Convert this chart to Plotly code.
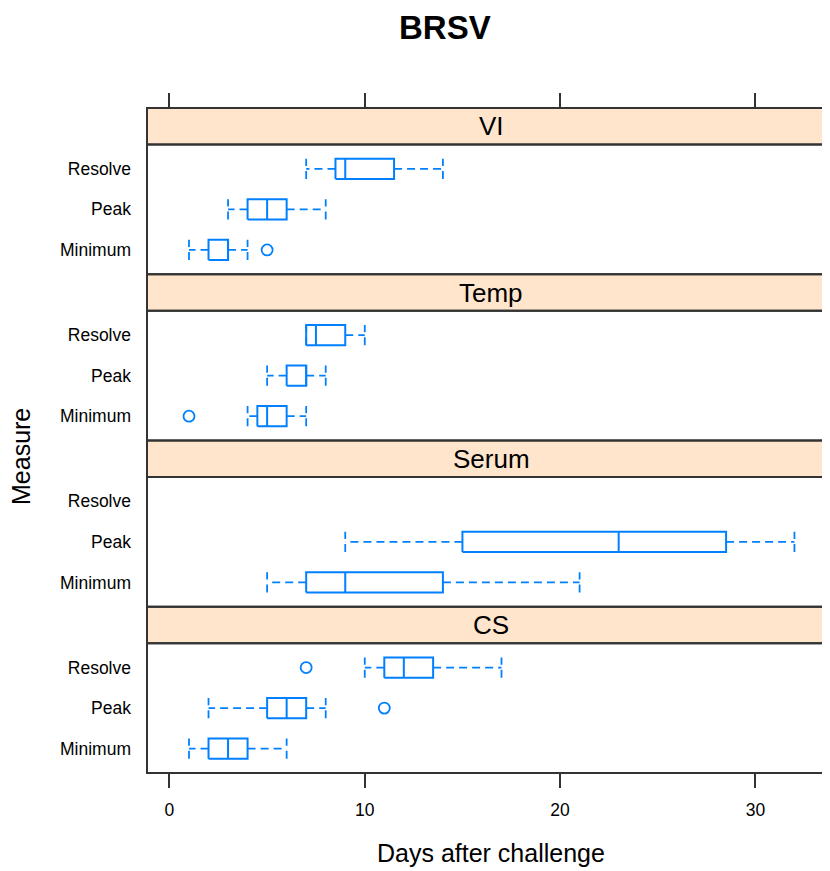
import plotly.graph_objects as go

# ---------------- data ----------------
panels = ["VI", "Temp", "Serum", "CS"]
measures = ["Minimum", "Peak", "Resolve"]
x_ticks = [0, 10, 20, 30]

vi_whisker_lo = [1, 3, 7]
vi_q1 = [2, 4, 8.5]
vi_median = [3, 5, 9]
vi_q3 = [3, 6, 11.5]
vi_whisker_hi = [4, 8, 14]
vi_outlier_measure = ["Minimum"]
vi_outlier_days = [5]

temp_whisker_lo = [4, 5, 7]
temp_q1 = [4.5, 6, 7]
temp_median = [5, 7, 7.5]
temp_q3 = [6, 7, 9]
temp_whisker_hi = [7, 8, 10]
temp_outlier_measure = ["Minimum"]
temp_outlier_days = [1]

serum_whisker_lo = [5, 9, None]
serum_q1 = [7, 15, None]
serum_median = [9, 23, None]
serum_q3 = [14, 28.5, None]
serum_whisker_hi = [21, 32, None]
serum_outlier_measure = []
serum_outlier_days = []

cs_whisker_lo = [1, 2, 10]
cs_q1 = [2, 5, 11]
cs_median = [3, 6, 12]
cs_q3 = [4, 7, 13.5]
cs_whisker_hi = [6, 8, 17]
cs_outlier_measure = ["Peak", "Resolve"]
cs_outlier_days = [11, 7]

panel_data = [
    (vi_whisker_lo, vi_q1, vi_median, vi_q3, vi_whisker_hi, vi_outlier_measure, vi_outlier_days),
    (temp_whisker_lo, temp_q1, temp_median, temp_q3, temp_whisker_hi, temp_outlier_measure, temp_outlier_days),
    (serum_whisker_lo, serum_q1, serum_median, serum_q3, serum_whisker_hi, serum_outlier_measure, serum_outlier_days),
    (cs_whisker_lo, cs_q1, cs_median, cs_q3, cs_whisker_hi, cs_outlier_measure, cs_outlier_days),
]

# ---------------- style / geometry ----------------
PAGE_OFF = 8                      # default body margin of the html page
W, H = 830 - PAGE_OFF, 871 - PAGE_OFF
BLUE = "#0080ff"
STRIP_BG = "#ffe5cc"
BORDER = "#333333"
FONT = "Liberation Sans, Arial, sans-serif"
HALF = 0.25          # half box height in category units
DASH = "8px,5px"

LEFT_PX = 147
TOP_PX = 108
PITCH = 166.25
STRIP_H = 36.5
DATA_H = 129.75
X_RANGE = [-1.15, 33.82]
Y_RANGE = [0.4, 3.6]


def px(x):
    return (x - PAGE_OFF) / W


def py(y):
    return 1 - (y - PAGE_OFF) / H


fig = go.Figure()
shapes = []
annotations = []
layout = {}

for k, name in enumerate(panels):
    lo, q1, med, q3, hi, om, od = panel_data[k]
    axn = "" if k == 0 else str(k + 1)
    xa, ya = "x" + axn, "y" + axn

    strip_top = TOP_PX + PITCH * k
    data_top = strip_top + STRIP_H
    data_bot = data_top + DATA_H

    bx, by, wx, wy = [], [], [], []
    for i, m in enumerate(measures):
        if q1[i] is None:
            continue
        c = i + 1
        bx += [q1[i], q3[i], q3[i], q1[i], q1[i], None, med[i], med[i], None]
        by += [c - HALF, c - HALF, c + HALF, c + HALF, c - HALF, None, c - HALF, c + HALF, None]
        wx += [q1[i], lo[i], None, q3[i], hi[i], None,
               lo[i], lo[i], None, hi[i], hi[i], None]
        wy += [c, c, None, c, c, None,
               c - HALF, c + HALF, None, c - HALF, c + HALF, None]

    fig.add_trace(go.Scatter(x=wx, y=wy, mode="lines", xaxis=xa, yaxis=ya,
                             line=dict(color=BLUE, width=1.8, dash=DASH),
                             showlegend=False, hoverinfo="skip"))
    fig.add_trace(go.Scatter(x=bx, y=by, mode="lines", xaxis=xa, yaxis=ya,
                             line=dict(color=BLUE, width=2),
                             showlegend=False, hoverinfo="skip"))
    fig.add_trace(go.Scatter(x=od, y=[measures.index(m) + 1 for m in om], mode="markers",
                             xaxis=xa, yaxis=ya,
                             marker=dict(symbol="circle-open", size=11, color=BLUE,
                                         line=dict(color=BLUE, width=1.8)),
                             showlegend=False))

    layout["xaxis" + axn] = dict(
        domain=[px(LEFT_PX), 1], range=X_RANGE, anchor=ya,
        showgrid=False, zeroline=False, showline=False,
        ticks="outside" if k == 3 else "", ticklen=14, tickwidth=2, tickcolor=BORDER,
        tickvals=x_ticks, showticklabels=(k == 3),
        tickfont=dict(family=FONT, size=17.5, color="#000"),
        ticklabelstandoff=7,
    )
    layout["yaxis" + axn] = dict(
        domain=[py(data_bot), py(data_top)], range=Y_RANGE, anchor=xa,
        showgrid=False, zeroline=False, showline=False, ticks="",
        tickvals=[1, 2, 3], ticktext=measures,
        tickfont=dict(family=FONT, size=17.5, color="#000"),
        ticklabelstandoff=15,
    )

    shapes.append(dict(type="rect", xref="paper", yref="paper",
                       x0=px(LEFT_PX), x1=1.05, y0=py(data_top), y1=py(strip_top),
                       fillcolor=STRIP_BG, line=dict(color=BORDER, width=2), layer="below"))
    shapes.append(dict(type="rect", xref="paper", yref="paper",
                       x0=px(LEFT_PX), x1=1.05, y0=py(data_bot), y1=py(data_top),
                       fillcolor="rgba(0,0,0,0)", line=dict(color=BORDER, width=2)))
    annotations.append(dict(text=name, xref="paper", yref="paper",
                            x=px(491), y=py(strip_top + STRIP_H / 2),
                            xanchor="center", yanchor="middle", showarrow=False,
                            font=dict(family=FONT, size=26, color="#000")))

# top tick axis (above the first strip)
fig.add_trace(go.Scatter(x=[X_RANGE[0] - 10], y=[-1], mode="markers", xaxis="x5", yaxis="y5",
                         marker=dict(opacity=0), showlegend=False, hoverinfo="skip"))
layout["yaxis5"] = dict(domain=[py(TOP_PX + STRIP_H), py(TOP_PX)], range=[0, 1],
                        visible=False, anchor="x5")
layout["xaxis5"] = dict(domain=[px(LEFT_PX), 1], range=X_RANGE, anchor="y5", side="top",
                        showgrid=False, zeroline=False, showline=False,
                        ticks="outside", ticklen=14, tickwidth=2, tickcolor=BORDER,
                        tickvals=x_ticks, showticklabels=False)

annotations.append(dict(text="<b>BRSV</b>", xref="paper", yref="paper",
                        x=px(445), y=1, xanchor="center", yanchor="top",
                        borderpad=0, showarrow=False,
                        font=dict(family=FONT, size=33, color="#000")))
annotations.append(dict(text="Days after challenge", xref="paper", yref="paper",
                        x=px(491), y=py(853), xanchor="center", yanchor="middle",
                        showarrow=False, font=dict(family=FONT, size=25, color="#000")))
annotations.append(dict(text="Measure", xref="paper", yref="paper", textangle=-90,
                        x=px(21), y=py(457), xanchor="center", yanchor="middle",
                        showarrow=False, font=dict(family=FONT, size=25, color="#000")))

fig.update_layout(
    width=W, height=H,
    margin=dict(l=0, r=0, t=0, b=0),
    paper_bgcolor="white", plot_bgcolor="white",
    shapes=shapes, annotations=annotations,
    showlegend=False,
    **layout,
)

fig.write_html("out.html")
